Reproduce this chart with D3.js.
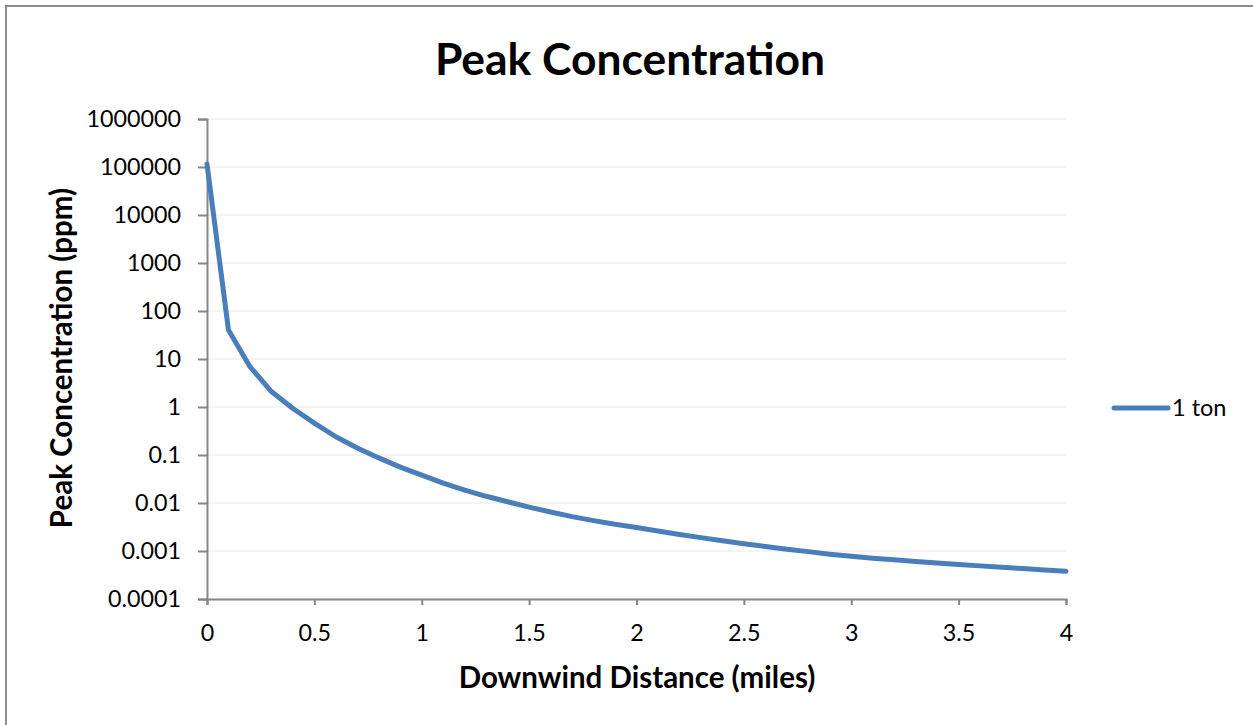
<!DOCTYPE html>
<html>
<head>
<meta charset="utf-8">
<script src="https://cdn.jsdelivr.net/npm/d3@7"></script>
<style>
  html, body { margin: 0; padding: 0; background: #fff; }
  svg { display: block; }
  text { font-family: Lato, "Open Sans", "Liberation Sans", sans-serif; fill: #000; }
</style>
</head>
<body>
<svg id="chart" width="1253" height="725"></svg>
<script>
// Downwind distance (miles)
const distance = [0, 0.1, 0.2, 0.3, 0.4, 0.5, 0.6, 0.7, 0.8, 0.9,
                  1.0, 1.1, 1.2, 1.3, 1.4, 1.5, 1.6, 1.7, 1.8, 1.9,
                  2.0, 2.1, 2.2, 2.3, 2.4, 2.5, 2.6, 2.7, 2.8, 2.9,
                  3.0, 3.1, 3.2, 3.3, 3.4, 3.5, 3.6, 3.7, 3.8, 3.9, 4.0];
// Peak concentration (ppm) for a 1 ton release
const oneTon = [115000, 40, 6.9, 2.1, 0.93, 0.46, 0.24, 0.14, 0.087, 0.056,
                0.038, 0.026, 0.0186, 0.0138, 0.0106, 0.0082, 0.0065, 0.0052, 0.0043, 0.0036,
                0.0031, 0.0026, 0.0022, 0.0019, 0.00163, 0.00141, 0.00124, 0.00109, 0.00097, 0.00086,
                0.00078, 0.00071, 0.000655, 0.000605, 0.00056, 0.000525, 0.00049, 0.000458, 0.00043, 0.000404, 0.00038];
const seriesName = "1 ton";

const yTicks = [0.0001, 0.001, 0.01, 0.1, 1, 10, 100, 1000, 10000, 100000, 1000000];
const yTickLabels = ["0.0001", "0.001", "0.01", "0.1", "1", "10", "100", "1000", "10000", "100000", "1000000"];
const xTicks = [0, 0.5, 1, 1.5, 2, 2.5, 3, 3.5, 4];
const xTickLabels = ["0", "0.5", "1", "1.5", "2", "2.5", "3", "3.5", "4"];

const titleText = "Peak Concentration";
const xTitle = "Downwind Distance (miles)";
const yTitle = "Peak Concentration (ppm)";

const svg = d3.select("#chart");
const plot = { left: 207, right: 1066, top: 119, bottom: 599 };
const lineColor = "#4a7ebb";
const axisColor = "#868686";
const gridColor = "#efefef";
const tickFont = 23.3;

// chart frame
svg.append("rect")
  .attr("x", 6).attr("y", 6).attr("width", 1260).attr("height", 740)
  .attr("fill", "#fff").attr("stroke", "#8c8c8c").attr("stroke-width", 2);

const x = d3.scaleLinear().domain([0, 4]).range([plot.left, plot.right]);
const y = d3.scaleLog().domain([0.0001, 1000000]).range([plot.bottom, plot.top]);

// horizontal gridlines
svg.append("g").selectAll("line").data(yTicks.slice(1)).join("line")
  .attr("x1", plot.left).attr("x2", plot.right)
  .attr("y1", d => y(d)).attr("y2", d => y(d))
  .attr("stroke", gridColor).attr("stroke-width", 1.5);

// y axis
const yAxis = d3.axisLeft(y).tickValues(yTicks)
  .tickFormat((d, i) => yTickLabels[i]).tickSize(9).tickPadding(17);
const gy = svg.append("g").attr("transform", `translate(${plot.left},0)`).call(yAxis);
gy.select(".domain").attr("stroke", axisColor).attr("stroke-width", 2);
gy.selectAll(".tick line").attr("stroke", axisColor).attr("stroke-width", 2);
gy.selectAll(".tick text").attr("font-size", tickFont).attr("font-family", "Lato, sans-serif").attr("fill", "#000");

// x axis
const xAxis = d3.axisBottom(x).tickValues(xTicks)
  .tickFormat((d, i) => xTickLabels[i]).tickSize(6).tickPadding(19);
const gx = svg.append("g").attr("transform", `translate(0,${plot.bottom})`).call(xAxis);
gx.select(".domain").attr("stroke", axisColor).attr("stroke-width", 2);
gx.selectAll(".tick line").attr("stroke", axisColor).attr("stroke-width", 2);
gx.selectAll(".tick text").attr("font-size", tickFont).attr("font-family", "Lato, sans-serif").attr("fill", "#000");

// series line
const line = d3.line().x((d, i) => x(distance[i])).y(d => y(d));
svg.append("path").datum(oneTon)
  .attr("d", line)
  .attr("fill", "none").attr("stroke", lineColor).attr("stroke-width", 5)
  .attr("stroke-linejoin", "round").attr("stroke-linecap", "round");

// titles
svg.append("text").attr("x", 630).attr("y", 75).attr("text-anchor", "middle")
  .attr("font-size", 44.4).attr("font-weight", "bold").text(titleText);
svg.append("text").attr("x", 637).attr("y", 688).attr("text-anchor", "middle")
  .attr("font-size", 29.5).attr("font-weight", "bold").text(xTitle);
svg.append("text").attr("transform", "translate(72,358) rotate(-90)").attr("text-anchor", "middle")
  .attr("font-size", 29.5).attr("font-weight", "bold").text(yTitle);

// legend
const lg = svg.append("g").attr("transform", "translate(1114,408)");
lg.append("line").attr("x1", 0).attr("x2", 54).attr("y1", 0).attr("y2", 0)
  .attr("stroke", lineColor).attr("stroke-width", 5).attr("stroke-linecap", "round");
lg.append("text").attr("x", 58).attr("y", 8).attr("font-size", 23.5).text(seriesName);
</script>
</body>
</html>
